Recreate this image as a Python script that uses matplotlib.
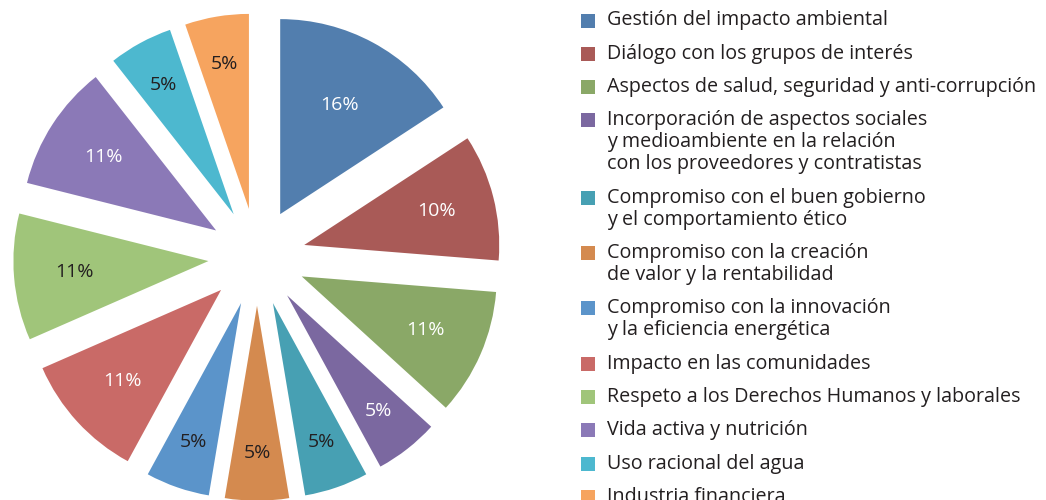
import numpy as np
import matplotlib
matplotlib.use("Agg")
import matplotlib.pyplot as plt
from matplotlib.patches import Rectangle

plt.rcParams['font.family'] = ['Open Sans', 'DejaVu Sans']

# datos (sentido horario desde arriba)
labels = [
    "Gestión del impacto ambiental",
    "Diálogo con los grupos de interés",
    "Aspectos de salud, seguridad y anti-corrupción",
    "Incorporación de aspectos sociales\ny medioambiente en la relación\ncon los proveedores y contratistas",
    "Compromiso con el buen gobierno\ny el comportamiento ético",
    "Compromiso con la creación\nde valor y la rentabilidad",
    "Compromiso con la innovación\ny la eficiencia energética",
    "Impacto en las comunidades",
    "Respeto a los Derechos Humanos y laborales",
    "Vida activa y nutrición",
    "Uso racional del agua",
    "Industria financiera",
]
# participacion real (angulo de cada porcion) y porcentaje impreso
shares = [15.8, 10.5, 10.5, 5.3, 5.3, 5.3, 5.3, 10.5, 10.5, 10.5, 5.3, 5.3]
pct_text = [16, 10, 11, 5, 5, 5, 5, 11, 11, 11, 5, 5]
colors = ["#527eae", "#a95a57", "#8aa867", "#7b68a0", "#47a0b3", "#d48a4f",
          "#5b94ca", "#c96a67", "#a0c57a", "#8b79b7", "#4db8cf", "#f6a45f"]
pct_colors = ["white", "white", "white", "white", "#231f20", "#231f20",
              "#231f20", "white", "#231f20", "white", "#231f20", "#231f20"]

W, H = 1046, 500
fig = plt.figure(figsize=(W / 100, H / 100), dpi=100)

# pie: radio 1 = 195 px, centro en (257, 257) px
R = 195.0
cx, cy = 257.0, 257.0
ax = fig.add_axes([0, 0, 1, 1])
wedges, texts = ax.pie(
    shares, colors=colors, startangle=90, counterclock=False,
    explode=[0.25] * len(shares), wedgeprops=dict(linewidth=0))
# etiquetas: las porciones pequeñas llevan el texto mas afuera
for w, p, c in zip(wedges, pct_text, pct_colors):
    ang = np.deg2rad((w.theta1 + w.theta2) / 2)
    d = 0.81 - 0.011 * p
    ax.text(w.center[0] + d * np.cos(ang), w.center[1] + d * np.sin(ang),
            f"{p}%", color=c, fontsize=14, ha='center', va='center')
ax.set_xlim(-cx / R, (W - cx) / R)
ax.set_ylim(-(H - cy) / R, cy / R)
ax.set_aspect('equal')
ax.axis('off')

# leyenda manual (cuadro alineado con la primera linea)
lax = fig.add_axes([0, 0, 1, 1])
lax.set_xlim(0, W)
lax.set_ylim(H, 0)
lax.axis('off')
y = 20.5
for lab, col in zip(labels, colors):
    lax.add_patch(Rectangle((581, y - 7), 14, 14, color=col, lw=0))
    lines = lab.split("\n")
    for k, line in enumerate(lines):
        lax.text(607, y + 5 + 22 * k, line, fontsize=14.2, color="#231f20",
                 va='baseline', ha='left')
    y += 22 * (len(lines) - 1) + 33.3

fig.savefig("out.png", dpi=100)
